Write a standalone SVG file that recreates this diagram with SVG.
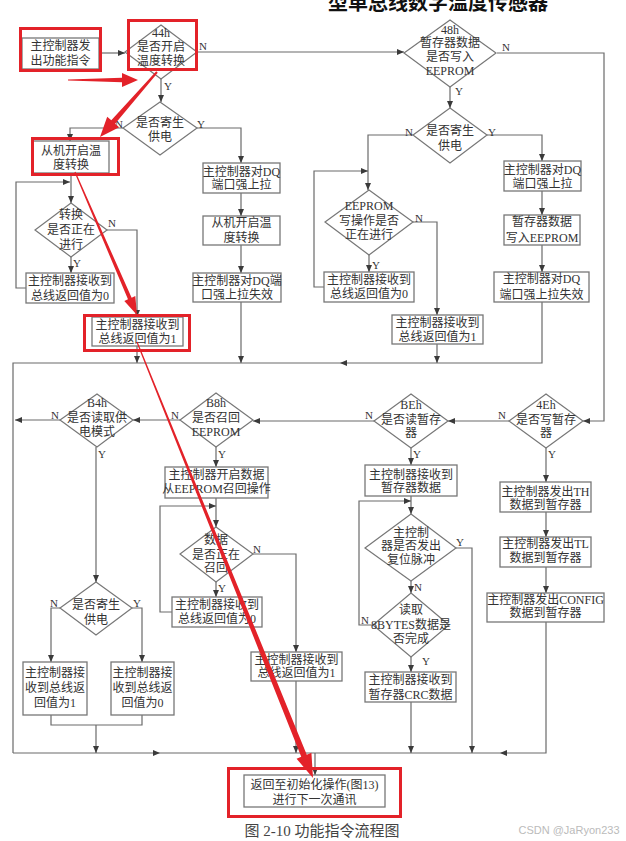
<svg xmlns="http://www.w3.org/2000/svg" width="626" height="841" viewBox="0 0 626 841">
<defs>
<marker id="ah" markerUnits="userSpaceOnUse" markerWidth="8" markerHeight="6" refX="7" refY="3" orient="auto"><path d="M0,0 L7,3 L0,6 z" fill="#3a3a3a"/></marker>
<style>
.bx{fill:#fff;stroke:#777;stroke-width:1.3}
.dm{fill:#fff;stroke:#777;stroke-width:1.2}
.ln{fill:none;stroke:#6a6a6a;stroke-width:1.2}
.ar{fill:none;stroke:#6a6a6a;stroke-width:1.2;marker-end:url(#ah)}
text{font-family:"Liberation Serif","Noto Sans CJK SC",serif;font-size:12px;fill:#333;text-anchor:middle;dominant-baseline:central}
.lb{font-size:11px}
.rb{fill:none;stroke:#e32229;stroke-width:3}
.ra{fill:#e32229;stroke:none}
</style>
</defs>
<rect width="626" height="841" fill="#fff"/>
<text x="438" y="1" style="font-family:'Noto Sans CJK SC',sans-serif;font-size:20px;font-weight:bold;fill:#111">型单总线数字温度传感器</text>

<g id="connectors">
<path class="ar" d="M99,53 H125"/>
<path class="ar" d="M197,52 H404"/>
<path class="ar" d="M161,78 V102"/>
<path class="ar" d="M123,128 H70 V141"/>
<path class="ar" d="M197,128 H241 V163"/>
<path class="ar" d="M71,173 V203"/>
<path class="ar" d="M27,288 H16 V182 H70"/>
<path class="ar" d="M71,257 V273"/>
<path class="ar" d="M107,230 H137 V317"/>
<path class="ar" d="M137,346 V363"/>
<path class="ar" d="M241,193 V216"/>
<path class="ar" d="M241,245 V273"/>
<path class="ar" d="M241,302 V363"/>
<path class="ar" d="M450,87 V108"/>
<path class="ar" d="M497,53 H604 V421 H583"/>
<path class="ar" d="M413,135 H368 V190"/>
<path class="ar" d="M487,135 H542 V161"/>
<path class="ar" d="M325,287 H314 V171 H368"/>
<path class="ar" d="M369,255 V272"/>
<path class="ar" d="M413,222 H437 V315"/>
<path class="ar" d="M437,344 V363"/>
<path class="ar" d="M542,191 V215"/>
<path class="ar" d="M542,245 V272"/>
<path class="ar" d="M542,302 V363 H340"/>
<path class="ln" d="M340,363 H13 V753"/>
<path class="ar" d="M13,753 H160"/>
<path class="ln" d="M160,753 H500"/>
<path class="ar" d="M546,622 V753 H500"/>
<path class="ar" d="M315,753 V775"/>
<path class="ar" d="M509,421 H448"/>
<path class="ar" d="M374,421 H253"/>
<path class="ar" d="M180,420 H133"/>
<path class="ar" d="M60,420 H15"/>
<path class="ar" d="M96,447 V582"/>
<path class="ar" d="M60,608 H51 V662"/>
<path class="ar" d="M132,608 H142 V662"/>
<path class="ln" d="M51,715 V725 H142 V715"/>
<path class="ar" d="M96,725 V753"/>
<path class="ar" d="M216,447 V467"/>
<path class="ar" d="M216,498 V527"/>
<path class="ar" d="M172,612 H160 V506 H216"/>
<path class="ar" d="M216,582 V597"/>
<path class="ar" d="M253,554 H296 V652"/>
<path class="ar" d="M296,681 V753"/>
<path class="ar" d="M411,448 V465"/>
<path class="ar" d="M411,496 V514"/>
<path class="ar" d="M411,581 V593"/>
<path class="ar" d="M456,548 H472 V753"/>
<path class="ar" d="M373,625 H359 V501 H411"/>
<path class="ar" d="M411,657 V672"/>
<path class="ar" d="M411,702 V753"/>
<path class="ar" d="M546,448 V482"/>
<path class="ar" d="M546,512 V537"/>
<path class="ar" d="M546,567 V593"/>
<g class="lbls">
<text class="lb" x="203" y="46">N</text>
<text class="lb" x="168" y="86">Y</text>
<text class="lb" x="119" y="124">N</text>
<text class="lb" x="201" y="124">Y</text>
<text class="lb" x="112" y="223">N</text>
<text class="lb" x="77" y="263">Y</text>
<text class="lb" x="459" y="91">Y</text>
<text class="lb" x="506" y="47">N</text>
<text class="lb" x="409" y="132">N</text>
<text class="lb" x="492" y="132">Y</text>
<text class="lb" x="419" y="218">N</text>
<text class="lb" x="376" y="265">Y</text>
<text class="lb" x="502" y="415">N</text>
<text class="lb" x="369" y="415">N</text>
<text class="lb" x="175" y="415">N</text>
<text class="lb" x="55" y="415">N</text>
<text class="lb" x="102" y="454">Y</text>
<text class="lb" x="222" y="454">Y</text>
<text class="lb" x="417" y="454">Y</text>
<text class="lb" x="552" y="454">Y</text>
<text class="lb" x="54" y="603">N</text>
<text class="lb" x="137" y="603">Y</text>
<text class="lb" x="222" y="588">Y</text>
<text class="lb" x="257" y="549">N</text>
<text class="lb" x="460" y="542">Y</text>
<text class="lb" x="418" y="587">N</text>
<text class="lb" x="365" y="620">N</text>
<text class="lb" x="426" y="661">Y</text>
</g>
</g>

<g id="n_start"><rect class="bx" x="22" y="38" width="77" height="31"/><text x="60.5" y="46">主控制器发</text><text x="60.5" y="61">出功能指令</text></g>
<g id="d_44h"><polygon class="dm" points="161,25 197,52 161,79 125,52"/><text x="161" y="33">44h</text><text x="161" y="47">是否开启</text><text x="161" y="61">温度转换</text></g>
<g id="d_44p"><polygon class="dm" points="160,102 197,128 160,155 123,128"/><text x="160" y="123">是否寄生</text><text x="160" y="137">供电</text></g>
<g id="n_slave1"><rect class="bx" x="33" y="141" width="76" height="32"/><text x="71" y="151">从机开启温</text><text x="71" y="165">度转换</text></g>
<g id="d_conv"><polygon class="dm" points="71,203 107,230 71,257 35,230"/><text x="71" y="215">转换</text><text x="71" y="230">是否正在</text><text x="71" y="245">进行</text></g>
<g id="n_recv0a"><rect class="bx" x="26" y="273" width="88" height="30"/><text x="70" y="281">主控制器接收到</text><text x="70" y="296">总线返回值为0</text></g>
<g id="n_recv1a"><rect class="bx" x="92" y="317" width="91" height="29"/><text x="137.5" y="325">主控制器接收到</text><text x="137.5" y="339">总线返回值为1</text></g>
<g id="n_dq1"><rect class="bx" x="203" y="163" width="77" height="30"/><text x="241.5" y="172">主控制器对DQ</text><text x="241.5" y="185">端口强上拉</text></g>
<g id="n_slave2"><rect class="bx" x="203" y="216" width="77" height="29"/><text x="241.5" y="223">从机开启温</text><text x="241.5" y="238">度转换</text></g>
<g id="n_fail1"><rect class="bx" x="193" y="273" width="88" height="29"/><text x="237" y="281">主控制器对DQ端</text><text x="237" y="295">口强上拉失效</text></g>
<g id="d_48h"><polygon class="dm" points="450,20 496,53 450,87 404,53"/><text x="450" y="30">48h</text><text x="450" y="43">暂存器数据</text><text x="450" y="57">是否写入</text><text x="450" y="71">EEPROM</text></g>
<g id="d_48p"><polygon class="dm" points="450,108 487,135 450,163 413,135"/><text x="450" y="131">是否寄生</text><text x="450" y="146">供电</text></g>
<g id="d_ee"><polygon class="dm" points="369,190 413,222 369,255 325,222"/><text x="369" y="206">EEPROM</text><text x="369" y="221">写操作是否</text><text x="369" y="235">正在进行</text></g>
<g id="n_recv0b"><rect class="bx" x="324" y="272" width="90" height="30"/><text x="369" y="280">主控制器接收到</text><text x="369" y="294">总线返回值为0</text></g>
<g id="n_recv1b"><rect class="bx" x="392" y="315" width="91" height="29"/><text x="437.5" y="323">主控制器接收到</text><text x="437.5" y="337">总线返回值为1</text></g>
<g id="n_dq2"><rect class="bx" x="504" y="161" width="77" height="30"/><text x="542.5" y="170">主控制器对DQ</text><text x="542.5" y="184">端口强上拉</text></g>
<g id="n_write"><rect class="bx" x="504" y="215" width="76" height="30"/><text x="542" y="222">暂存器数据</text><text x="542" y="238">写入EEPROM</text></g>
<g id="n_fail2"><rect class="bx" x="494" y="272" width="95" height="30"/><text x="541.5" y="279">主控制器对DQ</text><text x="541.5" y="295">端口强上拉失效</text></g>
<g id="d_4eh"><polygon class="dm" points="546,394 583,421 546,448 509,421"/><text x="546" y="405">4Eh</text><text x="546" y="420">是否写暂存</text><text x="546" y="433">器</text></g>
<g id="d_beh"><polygon class="dm" points="411,394 448,421 411,448 374,421"/><text x="411" y="405">BEh</text><text x="411" y="420">是否读暂存</text><text x="411" y="433">器</text></g>
<g id="d_b8h"><polygon class="dm" points="216,393 253,420 216,447 180,420"/><text x="216" y="403">B8h</text><text x="216" y="418">是否召回</text><text x="216" y="432">EEPROM</text></g>
<g id="d_b4h"><polygon class="dm" points="97,394 133,420 97,447 60,420"/><text x="97" y="403">B4h</text><text x="97" y="418">是否读取供</text><text x="97" y="432">电模式</text></g>
<g id="d_b4p"><polygon class="dm" points="96,582 132,608 96,635 60,608"/><text x="96" y="605">是否寄生</text><text x="96" y="620">供电</text></g>
<g id="n_b4r1"><rect class="bx" x="23" y="662" width="64" height="53"/><text x="55" y="673">主控制器接</text><text x="55" y="688">收到总线返</text><text x="55" y="703">回值为1</text></g>
<g id="n_b4r0"><rect class="bx" x="111" y="662" width="63" height="53"/><text x="142.5" y="673">主控制器接</text><text x="142.5" y="688">收到总线返</text><text x="142.5" y="703">回值为0</text></g>
<g id="n_recall"><rect class="bx" x="165" y="467" width="103" height="31"/><text x="216.5" y="475">主控制器开启数据</text><text x="216.5" y="489">从EEPROM召回操作</text></g>
<g id="d_data"><polygon class="dm" points="216,527 253,554 216,582 180,554"/><text x="216" y="540">数据</text><text x="216" y="555">是否正在</text><text x="216" y="568">召回</text></g>
<g id="n_recv0c"><rect class="bx" x="172" y="597" width="90" height="30"/><text x="217" y="605">主控制器接收到</text><text x="217" y="619">总线返回值为0</text></g>
<g id="n_recv1c"><rect class="bx" x="251" y="652" width="91" height="29"/><text x="296.5" y="660">主控制器接收到</text><text x="296.5" y="673">总线返回值为1</text></g>
<g id="n_scr"><rect class="bx" x="365" y="465" width="92" height="31"/><text x="411" y="475">主控制器接收到</text><text x="411" y="488">暂存器数据</text></g>
<g id="d_reset"><polygon class="dm" points="411,514 456,548 411,581 365,548"/><text x="411" y="533">主控制</text><text x="411" y="546">器是否发出</text><text x="411" y="560">复位脉冲</text></g>
<g id="d_read"><polygon class="dm" points="411,593 449,625 411,657 373,625"/><text x="411" y="610">读取</text><text x="411" y="625">8BYTES数据是</text><text x="411" y="639">否完成</text></g>
<g id="n_crc"><rect class="bx" x="365" y="672" width="91" height="30"/><text x="410.5" y="680">主控制器接收到</text><text x="410.5" y="695">暂存器CRC数据</text></g>
<g id="n_th"><rect class="bx" x="500" y="482" width="91" height="30"/><text x="545.5" y="492">主控制器发出TH</text><text x="545.5" y="505">数据到暂存器</text></g>
<g id="n_tl"><rect class="bx" x="500" y="537" width="91" height="30"/><text x="545.5" y="544">主控制器发出TL</text><text x="545.5" y="558">数据到暂存器</text></g>
<g id="n_cfg"><rect class="bx" x="487" y="593" width="117" height="29"/><text x="545.5" y="600">主控制器发出CONFIG</text><text x="545.5" y="613">数据到暂存器</text></g>
<g id="n_return"><rect class="bx" x="244" y="775" width="141" height="32"/><text x="314.5" y="785">返回至初始化操作(图13)</text><text x="314.5" y="800">进行下一次通讯</text></g>

<text x="322" y="831" style="font-size:15px;fill:#444">图 2-10 功能指令流程图</text>
<text x="569" y="830" style="font-family:'Liberation Sans',sans-serif;font-size:11px;fill:#bbb">CSDN @JaRyon233</text>

<g id="annotations">
<rect class="rb" x="20.5" y="28.5" width="80" height="42"/>
<rect class="rb" x="128.5" y="20.5" width="68" height="49"/>
<rect class="rb" x="32.5" y="138.5" width="86" height="36"/>
<rect class="rb" x="84.5" y="315.5" width="105" height="35"/>
<rect class="rb" x="228.5" y="768.5" width="172" height="48"/>
<polygon class="ra" points="68,79.4 122,77.8 122,73 138,80 122,87 122,82.2 68,80.6"/>
<polygon class="ra" points="156.25,71.34 111.3,120.35 107.2,116.7 100,137 119.2,127.3 115.1,123.65 157.75,72.66"/>
<polygon class="ra" points="74.45,172.24 127.97,299.3 124.3,300.9 137,315 135.3,296.1 131.63,297.7 75.55,171.76"/>
<polygon class="ra" points="136.44,342.22 301.22,756.87 296.58,758.74 313,778 311.42,752.76 306.78,754.63 137.56,341.78"/>
</g>
</svg>
